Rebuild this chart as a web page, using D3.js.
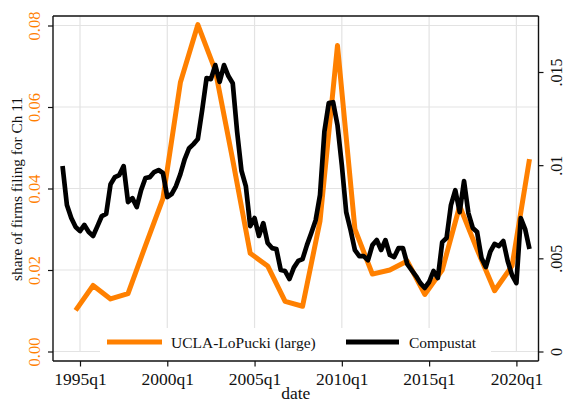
<!DOCTYPE html>
<html>
<head>
<meta charset="utf-8">
<script src="https://cdn.jsdelivr.net/npm/d3@7"></script>
<style>
  body { margin: 0; background: #fff; }
  svg { display: block; font-family: "Liberation Serif", serif; }
</style>
</head>
<body>
<svg id="chart" width="563" height="401"></svg>
<script>
// UCLA-LoPucki (large), one point per year (plotted at q4), left axis
const uclaYears = [1994, 1995, 1996, 1997, 1998, 1999, 2000, 2001, 2002, 2003, 2004, 2005, 2006,
  2007, 2008, 2009, 2010, 2011, 2012, 2013, 2014, 2015, 2016, 2017, 2018, 2019, 2020];
const uclaValues = [0.0101, 0.0162, 0.0129, 0.0142, 0.026, 0.0375, 0.066, 0.0802, 0.069, 0.047, 0.0241, 0.021, 0.0123,
  0.0111, 0.032, 0.0751, 0.030, 0.019, 0.020, 0.0222, 0.014, 0.020, 0.0357, 0.025, 0.0149, 0.021, 0.0472];

// Compustat, quarterly from 1994q1, right axis
const compustatStart = 1994;
const compustatValues = [
  0.00995, 0.00786, 0.00716, 0.00668,
  0.00646, 0.00679, 0.00641, 0.0062,
  0.00673, 0.00727, 0.00738, 0.00898,
  0.00936, 0.00947, 0.00995, 0.00802,
  0.00823, 0.00775, 0.00866, 0.00931,
  0.00936, 0.00963, 0.00974, 0.00958,
  0.00829, 0.00845, 0.00888, 0.00952,
  0.01033, 0.01091, 0.01113, 0.0114,
  0.01296, 0.01467, 0.01462, 0.01537,
  0.01447, 0.01537, 0.01478, 0.0144,
  0.0118, 0.0097, 0.00888, 0.00673,
  0.00716, 0.0062, 0.00689, 0.00582,
  0.00555, 0.0055, 0.00437, 0.00432,
  0.00389, 0.0045, 0.00486, 0.00496,
  0.00571, 0.00636, 0.00705, 0.0084,
  0.0118, 0.01333, 0.01338, 0.01215,
  0.01, 0.00748, 0.00652, 0.00544,
  0.00512, 0.00512, 0.0049, 0.00571,
  0.00598, 0.00545, 0.00598, 0.00518,
  0.00507, 0.00555, 0.00555, 0.00469,
  0.00437, 0.00405, 0.00367, 0.00341,
  0.00373, 0.00432, 0.00394, 0.00587,
  0.00609, 0.00786, 0.00866, 0.00748,
  0.00915, 0.00743, 0.00663, 0.00641,
  0.00502, 0.00453, 0.00534, 0.00577,
  0.00566, 0.00593, 0.00486, 0.0041,
  0.00367, 0.00716, 0.00657, 0.0055
];

const xTicks = [1995, 2000, 2005, 2010, 2015, 2020];
const leftTicks = [0, 0.02, 0.04, 0.06, 0.08];
const rightTicks = [0, 0.005, 0.01, 0.015];
const rightTickLabels = ["0", ".005", ".01", ".015"];
const legendLabels = ["UCLA-LoPucki (large)", "Compustat"];

const orange = "#ff8000";
const plotLeft = 53, plotRight = 538.5, plotTop = 16, plotBottom = 361;

const svg = d3.select("#chart");

const x = d3.scaleLinear().domain([1995, 2020]).range([80, 516.4]);
const yL = d3.scaleLinear().domain([0, 0.08]).range([351.5, 25.5]);
const yR = d3.scaleLinear().domain([0, 0.015]).range([351.5, 72]);

// gridlines
svg.append("g").selectAll("line")
  .data(leftTicks).enter().append("line")
  .attr("x1", plotLeft).attr("x2", plotRight)
  .attr("y1", d => yL(d)).attr("y2", d => yL(d))
  .attr("stroke", "#e3e3e3").attr("stroke-width", 1.2);
svg.append("g").selectAll("line")
  .data(xTicks).enter().append("line")
  .attr("x1", d => x(d)).attr("x2", d => x(d))
  .attr("y1", plotTop).attr("y2", yL(0))
  .attr("stroke", "#e3e3e3").attr("stroke-width", 1.2);

// series
const ucla = uclaYears.map((yr, i) => ({t: yr + 0.75, v: uclaValues[i]}));
const comp = compustatValues.map((v, i) => ({t: compustatStart + i / 4, v: v}));

svg.append("path")
  .datum(ucla)
  .attr("fill", "none")
  .attr("stroke", orange)
  .attr("stroke-width", 5)
  .attr("stroke-linejoin", "round")
  .attr("d", d3.line().x(d => x(d.t)).y(d => yL(d.v)));

svg.append("path")
  .datum(comp)
  .attr("fill", "none")
  .attr("stroke", "#000")
  .attr("stroke-width", 4.7)
  .attr("stroke-linejoin", "round")
  .attr("d", d3.line().x(d => x(d.t)).y(d => yR(d.v)));

// legend
const legend = svg.append("g");
legend.append("rect")
  .attr("x", 100).attr("y", 328).attr("width", 391).attr("height", 32)
  .attr("fill", "#fff");
const legendItems = [
  {label: legendLabels[0], color: orange, x1: 107, x2: 162, tx: 171},
  {label: legendLabels[1], color: "#000", x1: 346, x2: 399, tx: 409}
];
legendItems.forEach(it => {
  legend.append("line")
    .attr("x1", it.x1).attr("x2", it.x2).attr("y1", 342).attr("y2", 342)
    .attr("stroke", it.color).attr("stroke-width", 5);
  legend.append("text")
    .attr("x", it.tx).attr("y", 348)
    .attr("font-size", 15.5).attr("fill", "#111")
    .text(it.label);
});

// frame
svg.append("line").attr("x1", plotLeft).attr("x2", plotRight).attr("y1", plotTop).attr("y2", plotTop)
  .attr("stroke", "#111").attr("stroke-width", 1.4);

// axes
const gL = svg.append("g").attr("transform", `translate(${plotLeft},0)`)
  .call(d3.axisLeft(yL).tickValues(leftTicks).tickFormat(d3.format(".2f")).tickSize(5).tickSizeOuter(0));
gL.select(".domain").attr("d", `M0,${plotTop}V${plotBottom}`);
gL.selectAll("text")
  .attr("x", 0).attr("y", 0).attr("dy", 0)
  .attr("text-anchor", "middle")
  .attr("transform", "translate(-13.5,0) rotate(-90)")
  .attr("fill", orange).attr("font-size", 16.5);

const gR = svg.append("g").attr("transform", `translate(${plotRight},0)`)
  .call(d3.axisRight(yR).tickValues(rightTicks).tickFormat((d, i) => rightTickLabels[i]).tickSize(5).tickSizeOuter(0));
gR.select(".domain").attr("d", `M0,${plotTop}V${plotBottom}`);
gR.selectAll("text")
  .attr("x", 0).attr("y", 0).attr("dy", 0)
  .attr("text-anchor", "middle")
  .attr("transform", "translate(23,0) rotate(-90)")
  .attr("fill", "#111").attr("font-size", 16);

const gB = svg.append("g").attr("transform", `translate(0,${plotBottom})`)
  .call(d3.axisBottom(x).tickValues(xTicks).tickFormat(d => d + "q1").tickSize(5.5).tickSizeOuter(0));
gB.select(".domain").attr("d", `M${plotLeft},0H${plotRight}`);
gB.selectAll("text")
  .attr("y", 24).attr("dy", 0)
  .attr("fill", "#111").attr("font-size", 17.5);

[gL, gR, gB].forEach(g => {
  g.attr("font-family", null);
  g.selectAll(".domain").attr("stroke", "#111").attr("stroke-width", 1.4);
  g.selectAll(".tick line").attr("stroke", "#111").attr("stroke-width", 1.2);
});

// titles
svg.append("text")
  .attr("transform", "translate(21.5,189) rotate(-90)")
  .attr("text-anchor", "middle")
  .attr("font-size", 15.3).attr("fill", "#111")
  .text("share of firms filing for Ch 11");

svg.append("text")
  .attr("x", (plotLeft + plotRight) / 2).attr("y", 399)
  .attr("text-anchor", "middle")
  .attr("font-size", 17.5).attr("fill", "#111")
  .text("date");
</script>
</body>
</html>
